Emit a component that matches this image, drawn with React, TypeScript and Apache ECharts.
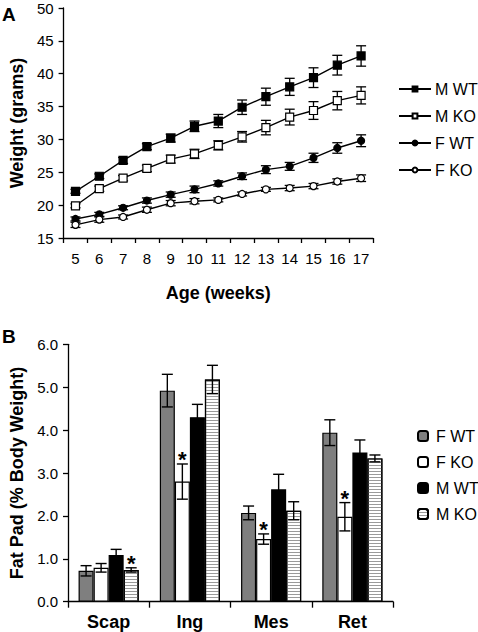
import React, { useEffect, useRef } from "react";
import * as echarts from "echarts";

// ---- Panel A: body weight over age ----
const weeks = ["5", "6", "7", "8", "9", "10", "11", "12", "13", "14", "15", "16", "17"];
const mWT = [22.1, 24.4, 26.8, 28.9, 30.2, 32.0, 32.8, 34.9, 36.5, 38.0, 39.4, 41.3, 42.7];
const mWTErr = [0.3, 0.35, 0.45, 0.45, 0.6, 0.8, 1.0, 1.1, 1.3, 1.3, 1.5, 1.5, 1.55];
const mKO = [19.9, 22.5, 24.1, 25.6, 27.0, 27.8, 29.1, 30.4, 31.8, 33.4, 34.4, 35.9, 36.7];
const mKOErr = [0.3, 0.4, 0.4, 0.5, 0.6, 0.7, 0.7, 0.8, 1.1, 1.2, 1.35, 1.4, 1.3];
const fWT = [17.9, 18.6, 19.6, 20.7, 21.6, 22.4, 23.3, 24.4, 25.4, 25.9, 27.2, 28.7, 29.8];
const fWTErr = [0.3, 0.3, 0.3, 0.4, 0.4, 0.5, 0.4, 0.5, 0.6, 0.6, 0.7, 0.8, 0.9];
const fKO = [17.0, 17.8, 18.2, 19.3, 20.3, 20.6, 20.8, 21.7, 22.4, 22.6, 22.9, 23.6, 24.1];
const fKOErr = [0.4, 0.4, 0.3, 0.4, 0.4, 0.4, 0.3, 0.3, 0.3, 0.4, 0.4, 0.4, 0.5];
const weightTicks = [15, 50, 5]; // min, max, interval

// ---- Panel B: fat pad mass ----
const depots = ["Scap", "Ing", "Mes", "Ret"];
const padFWT = [0.72, 4.92, 2.07, 3.94];
const padFWTErr = [0.12, 0.38, 0.16, 0.3];
const padFKO = [0.79, 2.8, 1.46, 1.98];
const padFKOErr = [0.1, 0.41, 0.12, 0.33];
const padMWT = [1.09, 4.3, 2.62, 3.48];
const padMWTErr = [0.13, 0.3, 0.35, 0.29];
const padMKO = [0.74, 5.18, 2.12, 3.34];
const padMKOErr = [0.05, 0.33, 0.21, 0.08];
const padFKOSig = [false, true, true, true];
const padMKOSig = [true, false, false, false];
const padTicks = [0, 6, 1];

const FONT = 'Arial, "Liberation Sans", sans-serif';
const BAR_GAP_FRAC = 0.26;

function errData(vals: number[], errs: number[], sig?: boolean[]) {
  return vals.map((v, i) => [i, v, errs[i], sig && sig[i] ? 1 : 0]);
}

function lineErrRender(params: any, api: any) {
  const x = api.value(0);
  const v = api.value(1);
  const e = api.value(2);
  const top = api.coord([x, v + e]);
  const bot = api.coord([x, v - e]);
  const cw = 5;
  const st = { stroke: "#000", lineWidth: 1.3 };
  return {
    type: "group",
    children: [
      { type: "line", shape: { x1: top[0], y1: top[1], x2: bot[0], y2: bot[1] }, style: st },
      { type: "line", shape: { x1: top[0] - cw, y1: top[1], x2: top[0] + cw, y2: top[1] }, style: st },
      { type: "line", shape: { x1: bot[0] - cw, y1: bot[1], x2: bot[0] + cw, y2: bot[1] }, style: st },
    ],
  };
}

function barErrRender(idx: number) {
  return (params: any, api: any) => {
    const x = api.value(0);
    const v = api.value(1);
    const e = api.value(2);
    const s = api.value(3);
    const band = api.size([1, 0])[0];
    const group = band * (1 - BAR_GAP_FRAC);
    const bw = group / 4;
    const center = api.coord([x, v]);
    const cx = center[0] - group / 2 + bw * (idx + 0.5);
    const top = api.coord([x, v + e])[1];
    const bot = api.coord([x, v - e])[1];
    const cw = 5.5;
    const st = { stroke: "#000", lineWidth: 1.4 };
    const children: any[] = [
      { type: "line", shape: { x1: cx, y1: top, x2: cx, y2: bot }, style: st },
      { type: "line", shape: { x1: cx - cw, y1: top, x2: cx + cw, y2: top }, style: st },
      { type: "line", shape: { x1: cx - cw, y1: bot, x2: cx + cw, y2: bot }, style: st },
    ];
    if (s) {
      children.push({
        type: "text",
        style: {
          text: "*",
          x: cx,
          y: top + 7,
          align: "center",
          verticalAlign: "bottom",
          font: `bold 22px ${FONT}`,
          fill: "#000",
        },
      });
    }
    return { type: "group", children };
  };
}

export default function App() {
  const ref = useRef<HTMLDivElement>(null);

  useEffect(() => {
    if (!ref.current) return;
    const chart = echarts.init(ref.current, undefined, { renderer: "svg" });

    const axisLine = { show: true, lineStyle: { color: "#000", width: 1.3 } };
    const axisTick = { show: true, inside: false, length: 5, lineStyle: { color: "#000", width: 1.3 } };

    const lineSeries = (name: string, data: number[], symbol: string, size: number, filled: boolean) => ({
      type: "line",
      name,
      xAxisIndex: 0,
      yAxisIndex: 0,
      data,
      symbol,
      symbolSize: size,
      showSymbol: true,
      z: 5,
      lineStyle: { color: "#000", width: 1.4 },
      itemStyle: { color: filled ? "#000" : "#fff", borderColor: "#000", borderWidth: 1.2 },
    });

    const barSeries = (name: string, data: number[], color: string, decal?: any) => ({
      type: "bar",
      name,
      xAxisIndex: 1,
      yAxisIndex: 1,
      data,
      barGap: "0%",
      barCategoryGap: `${BAR_GAP_FRAC * 100}%`,
      itemStyle: { color, borderColor: "#000", borderWidth: 1.2, decal },
      z: 2,
    });

    const stripes = {
      symbol: "rect",
      symbolSize: 1,
      dashArrayX: [1, 0],
      dashArrayY: [1, 2],
      rotation: 0,
      color: "#9a9a9a",
    };

    const option: any = {
      animation: false,
      textStyle: { fontFamily: FONT },
      grid: [
        { left: 55, top: 8, width: 318, height: 230 },
        { left: 60, top: 344.3, width: 333, height: 257.4 },
      ],
      xAxis: [
        {
          type: "category",
          gridIndex: 0,
          data: weeks,
          boundaryGap: true,
          axisLine,
          axisTick,
          axisLabel: { color: "#000", fontSize: 15, margin: 13, fontFamily: FONT },
          name: "Age (weeks)",
          nameLocation: "middle",
          nameGap: 46,
          nameTextStyle: { color: "#000", fontSize: 18, fontWeight: "bold", fontFamily: FONT },
          splitLine: { show: false },
        },
        {
          type: "category",
          gridIndex: 1,
          data: depots,
          boundaryGap: true,
          axisLine,
          axisTick: { ...axisTick, length: 6 },
          axisLabel: { color: "#000", fontSize: 18, fontWeight: "bold", margin: 11, fontFamily: FONT },
          splitLine: { show: false },
        },
      ],
      yAxis: [
        {
          type: "value",
          gridIndex: 0,
          min: weightTicks[0],
          max: weightTicks[1],
          interval: weightTicks[2],
          axisLine,
          axisTick,
          splitLine: { show: false },
          axisLabel: { color: "#000", fontSize: 15, margin: 10, fontFamily: FONT },
          name: "Weight (grams)",
          nameLocation: "middle",
          nameGap: 37,
          nameTextStyle: { color: "#000", fontSize: 18, fontWeight: "bold", fontFamily: FONT },
        },
        {
          type: "value",
          gridIndex: 1,
          min: padTicks[0],
          max: padTicks[1],
          interval: padTicks[2],
          axisLine,
          axisTick,
          splitLine: { show: false },
          axisLabel: {
            color: "#000",
            fontSize: 15,
            margin: 10,
            fontFamily: FONT,
            formatter: (v: number) => v.toFixed(1),
          },
          name: "Fat Pad (% Body Weight)",
          nameLocation: "middle",
          nameGap: 42,
          nameTextStyle: { color: "#000", fontSize: 18, fontWeight: "bold", fontFamily: FONT },
        },
      ],
      legend: [
        {
          data: ["M WT", "M KO", "F WT", "F KO"],
          orient: "vertical",
          left: 393,
          top: 76,
          itemWidth: 32,
          itemHeight: 6,
          itemGap: 11,
          textStyle: { color: "#000", fontSize: 16, fontFamily: FONT, padding: [0, 0, 0, -1] },
          selectedMode: false,
        },
        {
          data: ["B:F WT", "B:F KO", "B:M WT", "B:M KO"],
          formatter: (n: string) => n.replace("B:", ""),
          orient: "vertical",
          left: 412,
          top: 423,
          itemWidth: 10,
          itemHeight: 10,
          itemGap: 10,
          textStyle: { color: "#000", fontSize: 16, fontFamily: FONT, padding: [0, 0, 0, 3] },
          selectedMode: false,
        },
      ],
      graphic: [
        { type: "text", x: 2, y: 14, style: { text: "A", font: `bold 19px ${FONT}`, verticalAlign: "middle", fill: "#000" } },
        { type: "text", x: 2, y: 336, style: { text: "B", font: `bold 19px ${FONT}`, verticalAlign: "middle", fill: "#000" } },
      ],
      series: [
        { type: "custom", xAxisIndex: 0, yAxisIndex: 0, renderItem: lineErrRender, data: errData(mWT, mWTErr), z: 3, silent: true },
        { type: "custom", xAxisIndex: 0, yAxisIndex: 0, renderItem: lineErrRender, data: errData(mKO, mKOErr), z: 3, silent: true },
        { type: "custom", xAxisIndex: 0, yAxisIndex: 0, renderItem: lineErrRender, data: errData(fWT, fWTErr), z: 3, silent: true },
        { type: "custom", xAxisIndex: 0, yAxisIndex: 0, renderItem: lineErrRender, data: errData(fKO, fKOErr), z: 3, silent: true },
        lineSeries("M WT", mWT, "rect", 8, true),
        lineSeries("M KO", mKO, "rect", 8, false),
        lineSeries("F WT", fWT, "circle", 7, true),
        lineSeries("F KO", fKO, "circle", 7, false),
        barSeries("B:F WT", padFWT, "#7f7f7f"),
        barSeries("B:F KO", padFKO, "#ffffff"),
        barSeries("B:M WT", padMWT, "#000000"),
        barSeries("B:M KO", padMKO, "#ffffff", stripes),
        { type: "custom", xAxisIndex: 1, yAxisIndex: 1, renderItem: barErrRender(0), data: errData(padFWT, padFWTErr), z: 4, silent: true },
        { type: "custom", xAxisIndex: 1, yAxisIndex: 1, renderItem: barErrRender(1), data: errData(padFKO, padFKOErr, padFKOSig), z: 4, silent: true },
        { type: "custom", xAxisIndex: 1, yAxisIndex: 1, renderItem: barErrRender(2), data: errData(padMWT, padMWTErr), z: 4, silent: true },
        { type: "custom", xAxisIndex: 1, yAxisIndex: 1, renderItem: barErrRender(3), data: errData(padMKO, padMKOErr, padMKOSig), z: 4, silent: true },
      ],
    };

    chart.setOption(option);
    return () => chart.dispose();
  }, []);

  return (
    <div
      ref={ref}
      style={{ position: "absolute", left: 0, top: 0, width: 478, height: 632, background: "#fff" }}
    />
  );
}
